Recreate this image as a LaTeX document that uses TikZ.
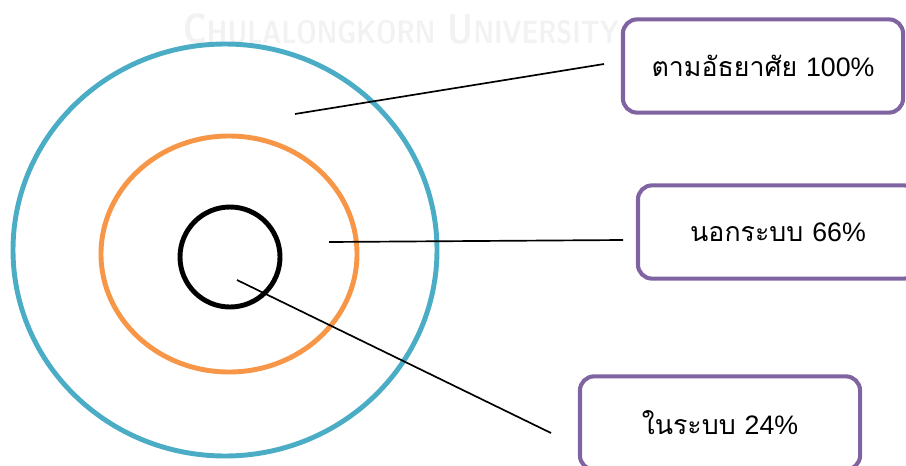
\documentclass[tikz,border=0pt]{standalone}
\usepackage{xcolor}
\usepackage{fontspec}
\usepackage{tikz}
\newfontfamily\thaifont[Script=Thai]{Loma}
\newfontfamily\numfont{Liberation Sans}
\newcommand{\pct}[1]{{\numfont #1\%}}
\definecolor{ringblue}{HTML}{4BACC6}
\definecolor{ringorange}{HTML}{F79646}
\definecolor{boxpurple}{HTML}{8064A2}
\definecolor{markgray}{HTML}{F2F2F2}

\begin{document}
\begin{tikzpicture}[x=0.025cm, y=-0.025cm,
        ring/.style={line width=3.5pt},
        label box/.style={rectangle, draw=boxpurple, line width=2.9pt,
        rounded corners=10pt, minimum width=7cm, minimum height=2.33cm,
        font=\thaifont\fontsize{19}{22}\selectfont},
        pointer/.style={line width=1.2pt}]
        \useasboundingbox (0,0) rectangle (906,466);

        \node[text=markgray, font=\sffamily\bfseries\fontsize{30}{30}\selectfont] (W) at (401,29)
            {\scalebox{0.8}[1]{C{\fontsize{23}{23}\selectfont HULALONGKORN} U{\fontsize{23}{23}\selectfont NIVERSITY}}};

        \draw[ring, draw=ringblue] (225,250) ellipse [x radius=212, y radius=206];
        \draw[ring, draw=ringorange] (229,254) ellipse [x radius=128, y radius=118];
        \draw[ring, draw=black] (230,257) circle [radius=50];

        \node[label box] (A) at (763,66) {ตามอัธยาศัย \pct{100}};
        \node[label box] (B) at (778,232) {นอกระบบ \pct{66}};
        \node[label box] (C) at (720,423) {ในระบบ \pct{24}};

        \coordinate (a1) at (295,114);
        \coordinate (a2) at (604,64);
        \coordinate (b1) at (329,242);
        \coordinate (b2) at (623,240);
        \coordinate (c1) at (237,280);
        \coordinate (c2) at (551,433);

        \draw[pointer] (a1) -- (a2);
        \draw[pointer] (b1) -- (b2);
        \draw[pointer] (c1) -- (c2);
    \end{tikzpicture}
\end{document}
